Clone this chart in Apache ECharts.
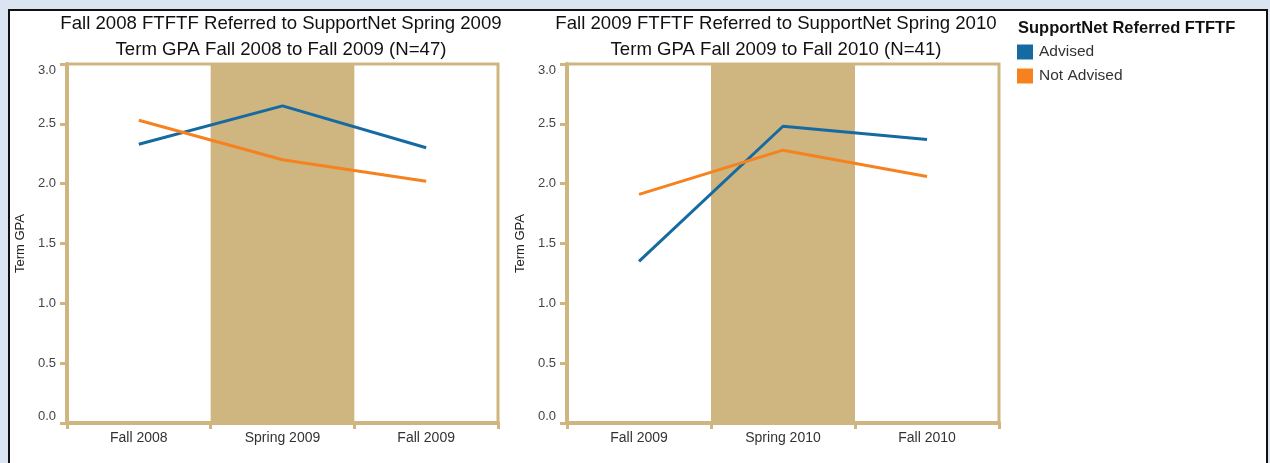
<!DOCTYPE html>
<html>
<head>
<meta charset="utf-8">
<script src="https://cdn.jsdelivr.net/npm/echarts@6/dist/echarts.min.js"></script>
<style>
html,body{margin:0;padding:0;background:#dbe5f1;width:1270px;height:463px;overflow:hidden;}
#frame{position:absolute;left:8px;top:9px;width:1256px;height:460px;border:2px solid #111;background:#fff;}
#chart{position:absolute;left:0;top:0;width:1270px;height:463px;}
</style>
</head>
<body>
<div id="frame"></div>
<div id="chart"></div>
<script>
const categoriesLeft = ['Fall 2008', 'Spring 2009', 'Fall 2009'];
const categoriesRight = ['Fall 2009', 'Spring 2010', 'Fall 2010'];
const advisedLeft = [2.33, 2.65, 2.30];
const notAdvisedLeft = [2.53, 2.20, 2.02];
const advisedRight = [1.35, 2.48, 2.37];
const notAdvisedRight = [1.91, 2.28, 2.06];
const titleLeft = 'Fall 2008 FTFTF Referred to SupportNet Spring 2009\nTerm GPA Fall 2008 to Fall 2009 (N=47)';
const titleRight = 'Fall 2009 FTFTF Referred to SupportNet Spring 2010\nTerm GPA Fall 2009 to Fall 2010 (N=41)';
const legendTitle = 'SupportNet Referred FTFTF';
const seriesNames = ['Advised', 'Not Advised'];
const yAxisName = 'Term GPA';

const TAN = '#cfb580';
const BLUE = '#166aa2';
const ORANGE = '#f5821f';
const FONT = '"Liberation Sans", Arial, sans-serif';

function xAxis(gi, cats) {
  return {
    type: 'category', gridIndex: gi, data: cats, boundaryGap: true,
    axisLine: {lineStyle: {color: TAN, width: 4}},
    axisTick: {show: true, length: 6, lineStyle: {color: TAN, width: 3}},
    axisLabel: {color: '#333', fontSize: 14, fontFamily: FONT, margin: 8},
    splitLine: {show: false},
    splitArea: {show: true, areaStyle: {color: ['rgba(255,255,255,0)', TAN]}}
  };
}
function yAxis(gi) {
  return {
    type: 'value', gridIndex: gi, min: 0, max: 3, interval: 0.5,
    name: yAxisName, nameLocation: 'middle', nameGap: 40, nameRotate: 90,
    nameTextStyle: {color: '#222', fontSize: 13, fontFamily: FONT},
    axisLine: {show: true, lineStyle: {color: TAN, width: 4}},
    axisTick: {show: true, length: 7, lineStyle: {color: TAN, width: 3}},
    axisLabel: {color: '#444', fontSize: 13, fontFamily: FONT, margin: 11,
      formatter: v => v.toFixed(1), verticalAlignMinLabel: 'bottom', verticalAlignMaxLabel: 'top'},
    splitLine: {show: false}
  };
}
function line(name, xi, data, color) {
  return {
    name: name, type: 'line', xAxisIndex: xi, yAxisIndex: xi, data: data,
    symbol: 'none', lineStyle: {color: color, width: 3}, itemStyle: {color: color},
    z: 5
  };
}

const chart = echarts.init(document.getElementById('chart'), null, {renderer: 'canvas'});
chart.setOption({
  backgroundColor: 'transparent',
  animation: false,
  title: [
    {text: titleLeft, left: 276, top: 6, textAlign: 'center',
      textStyle: {fontSize: 18.6, fontWeight: 'normal', color: '#111', fontFamily: FONT, lineHeight: 26}},
    {text: titleRight, left: 771, top: 6, textAlign: 'center',
      textStyle: {fontSize: 18.6, fontWeight: 'normal', color: '#111', fontFamily: FONT, lineHeight: 26}},
    {text: legendTitle, left: 1013, top: 15,
      textStyle: {fontSize: 16.5, fontWeight: 'bold', color: '#111', fontFamily: FONT}}
  ],
  legend: {
    orient: 'vertical', left: 1012, top: 39, itemWidth: 16, itemHeight: 15, itemGap: 8,
    icon: 'rect',
    data: [{name: seriesNames[0], itemStyle: {color: BLUE}}, {name: seriesNames[1], itemStyle: {color: ORANGE}}],
    textStyle: {color: '#333', fontSize: 15.5, fontFamily: FONT, padding: [0, 0, 0, 1]}
  },
  grid: [
    {left: 67, right: 772, top: 64, bottom: 40, show: true, borderColor: TAN, borderWidth: 3, backgroundColor: 'transparent'},
    {left: 567, right: 271, top: 64, bottom: 40, show: true, borderColor: TAN, borderWidth: 3, backgroundColor: 'transparent'}
  ],
  xAxis: [xAxis(0, categoriesLeft), xAxis(1, categoriesRight)],
  yAxis: [yAxis(0), yAxis(1)],
  series: [
    line(seriesNames[0], 0, advisedLeft, BLUE),
    line(seriesNames[1], 0, notAdvisedLeft, ORANGE),
    line(seriesNames[0], 1, advisedRight, BLUE),
    line(seriesNames[1], 1, notAdvisedRight, ORANGE)
  ]
});
</script>
</body>
</html>
